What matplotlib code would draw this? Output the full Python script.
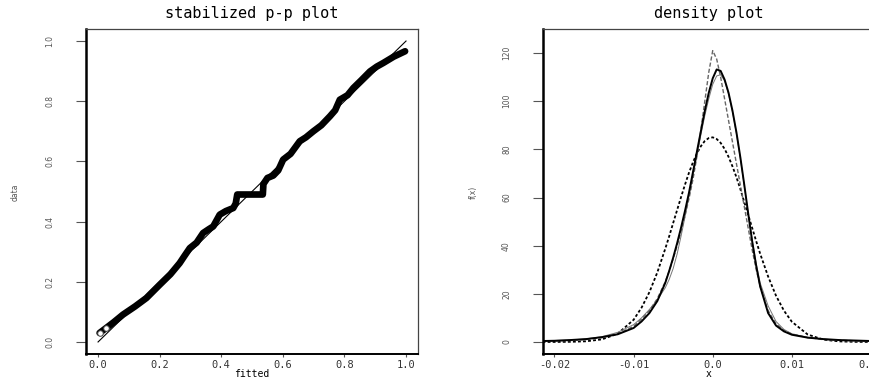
import matplotlib
matplotlib.use("Agg")
import matplotlib.pyplot as plt

# p-p plot: (fitted, data) read along the thick band of points
pp_fitted = [0.005, 0.027, 0.050, 0.081, 0.120, 0.157, 0.200, 0.235, 0.265, 0.280,
             0.298, 0.320, 0.341, 0.360, 0.374, 0.395, 0.415, 0.439, 0.447, 0.452,
             0.535, 0.537, 0.550, 0.569, 0.585, 0.601, 0.625, 0.655, 0.675, 0.699,
             0.725, 0.753, 0.770, 0.785, 0.810, 0.829, 0.855, 0.883, 0.905, 0.926,
             0.960, 0.997]
pp_data = [0.030, 0.047, 0.065, 0.091, 0.118, 0.146, 0.190, 0.225, 0.262, 0.285,
           0.312, 0.330, 0.362, 0.375, 0.384, 0.423, 0.435, 0.445, 0.460, 0.490,
           0.490, 0.525, 0.545, 0.553, 0.570, 0.606, 0.625, 0.667, 0.680, 0.700,
           0.720, 0.750, 0.770, 0.805, 0.820, 0.844, 0.870, 0.899, 0.915, 0.927,
           0.948, 0.966]

# density plot: common x grid and four curves
dens_x = [-0.0215, -0.020, -0.018, -0.016, -0.014, -0.012, -0.010, -0.009, -0.008,
          -0.007, -0.006, -0.0055, -0.005, -0.0045, -0.004, -0.0035, -0.003,
          -0.0025, -0.002, -0.0015, -0.001, -0.0005, 0.0, 0.0005, 0.001, 0.0015,
          0.002, 0.0025, 0.003, 0.0035, 0.004, 0.0045, 0.005, 0.0055, 0.006,
          0.007, 0.008, 0.009, 0.010, 0.012, 0.014, 0.016, 0.018, 0.020, 0.021]
dens_solid = [0.4, 0.5, 0.8, 1.2, 2.0, 3.2, 5.8, 8.5, 12.0,
              17.0, 24.5, 29.5, 35.0, 41.0, 47.5, 54.5, 62.0,
              70.5, 79.0, 87.5, 96.0, 103.5, 109.5, 113.2, 112.6, 109.0,
              103.5, 96.0, 87.0, 76.5, 65.0, 53.0, 41.5, 31.5, 23.0,
              12.0, 6.8, 4.4, 3.0, 1.8, 1.2, 0.8, 0.6, 0.4, 0.4]
dens_dashed = [0.3, 0.4, 0.6, 1.0, 1.8, 3.4, 6.5, 9.5, 13.0,
               18.0, 25.0, 29.5, 34.5, 40.0, 46.0, 52.5, 59.5,
               67.5, 77.0, 88.0, 100.0, 112.0, 121.0, 117.5, 110.0, 101.0,
               92.0, 83.0, 74.0, 65.0, 56.0, 47.0, 38.0, 30.0, 23.0,
               13.0, 7.5, 4.8, 3.3, 1.8, 1.1, 0.7, 0.5, 0.3, 0.3]
dens_normal = [0.0, 0.01, 0.06, 0.28, 1.07, 3.45, 9.2, 14.2, 20.7,
               28.9, 38.7, 43.9, 49.4, 54.8, 60.2, 65.4, 70.3,
               74.6, 78.3, 81.3, 83.5, 84.7, 85.0, 84.3, 82.7, 80.2,
               76.9, 72.9, 68.4, 63.4, 58.0, 52.6, 47.2, 41.8, 36.6,
               27.2, 19.2, 13.0, 8.4, 3.1, 0.94, 0.24, 0.05, 0.01, 0.0]
dens_kernel = [0.5, 0.6, 0.8, 1.3, 2.2, 4.0, 7.2, 10.0, 13.5,
               17.5, 22.5, 26.0, 30.5, 36.5, 44.0, 52.0, 60.5,
               69.0, 77.5, 86.0, 94.0, 101.0, 107.0, 110.5, 111.0, 108.5,
               103.0, 95.5, 86.5, 76.0, 64.5, 53.0, 42.0, 32.5, 24.5,
               15.0, 8.5, 5.2, 3.4, 1.9, 1.0, 0.6, 0.4, 0.3, 0.3]

pp_xticks = [0.0, 0.2, 0.4, 0.6, 0.8, 1.0]
pp_yticks = [0.0, 0.2, 0.4, 0.6, 0.8, 1.0]
dens_xticks = [-0.02, -0.01, 0.0, 0.01, 0.02]
dens_yticks = [0, 20, 40, 60, 80, 100, 120]

mono = "DejaVu Sans Mono"
grey = "#555555"

fig = plt.figure(figsize=(8.7, 3.8), dpi=100)
ax1 = fig.add_axes([0.0989, 0.0684, 0.3816, 0.8553])
ax2 = fig.add_axes([0.6241, 0.0684, 0.3816, 0.8553])


def style_axes(ax, xticks, yticks, xlabels, ylabels):
    ax.set_xticks(xticks)
    ax.set_xticklabels(xlabels, family=mono, fontsize=7.5, color="#333333")
    ax.set_yticks(yticks)
    ax.set_yticklabels(ylabels, rotation=90, fontsize=5.5, color=grey,
                       va="center", family="DejaVu Sans Condensed")
    ax.tick_params(axis="x", length=2.5, width=0.8, color=grey, pad=1.5)
    ax.tick_params(axis="y", length=7, width=0.8, color=grey, pad=16)
    ax.spines["left"].set_linewidth(1.8)
    ax.spines["bottom"].set_linewidth(1.4)
    for s in ("top", "right"):
        ax.spines[s].set_linewidth(0.9)
        ax.spines[s].set_color("#444444")


# left panel: stabilized p-p plot
ax1.plot([0, 1], [0, 1], color="black", lw=0.8)
ax1.plot(pp_fitted, pp_data, color="black", lw=4.8, solid_capstyle="round",
         solid_joinstyle="round")
ax1.plot(pp_fitted[:2], pp_data[:2], "o", ms=4, mfc="white", mec="#444444", mew=0.7)
ax1.set_xlim(-0.039, 1.039)
ax1.set_ylim(-0.04, 1.04)
style_axes(ax1, pp_xticks, pp_yticks,
           [f"{v:.1f}" for v in pp_xticks], [f"{v:.1f}" for v in pp_yticks])
ax1.set_title("stabilized p-p plot", family=mono, fontsize=11, pad=8)

# right panel: density plot
ax2.plot(dens_x, dens_normal, color="black", lw=1.3, linestyle=(0, (1.6, 1.2)))
ax2.plot(dens_x, dens_kernel, color="#777777", lw=0.7)
ax2.plot(dens_x, dens_dashed, color="#666666", lw=1.0, linestyle=(0, (3, 1.5)))
ax2.plot(dens_x, dens_solid, color="black", lw=1.4)
ax2.set_xlim(-0.02145, 0.0205)
ax2.set_ylim(-5, 130)
style_axes(ax2, dens_xticks, dens_yticks,
           ["-0.02", "-0.01", "0.0", "0.01", "0.02"], [str(v) for v in dens_yticks])
ax2.set_title("density plot", family=mono, fontsize=11, pad=8)

fig.text(0.2897, 0.016, "fitted", family=mono, fontsize=7,
         ha="center", va="center")
fig.text(0.017, 0.495, "data", rotation=90, fontsize=5.5, color=grey,
         ha="center", va="center", family="DejaVu Sans Condensed")
fig.text(0.815, 0.016, "x", family=mono, fontsize=7, ha="center", va="center")
fig.text(0.544, 0.495, "f(x)", rotation=90, fontsize=5.5, color=grey,
         ha="center", va="center", family="DejaVu Sans Condensed")

fig.savefig("out.png", dpi=100)
